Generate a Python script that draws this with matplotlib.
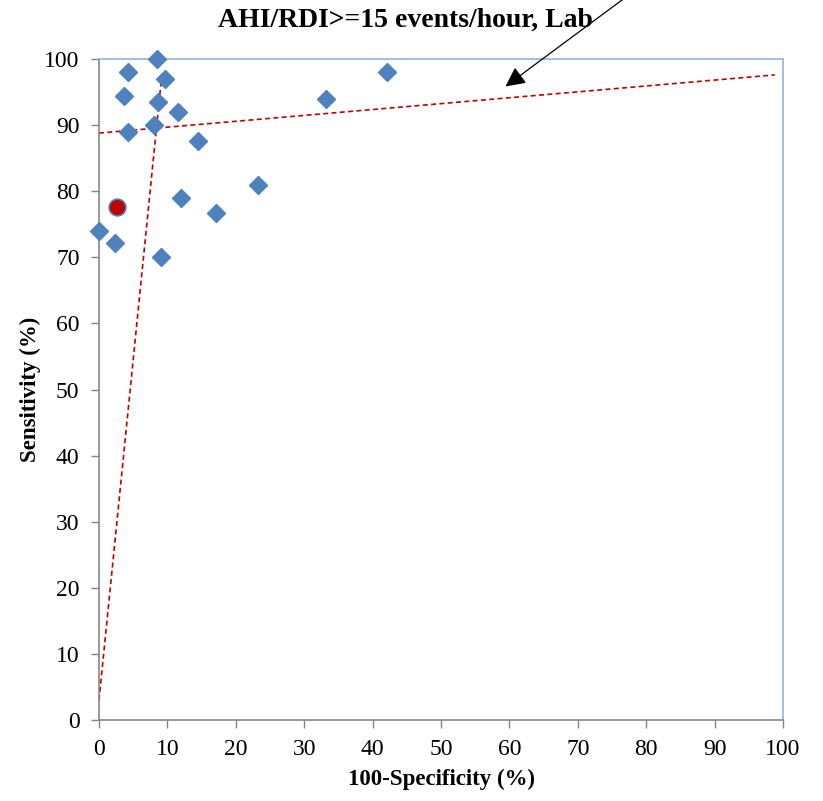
import matplotlib
matplotlib.use("Agg")
import matplotlib.pyplot as plt

# -----------------------------
# data
# -----------------------------
spec_100 = [8.5, 4.2, 9.6, 3.7, 8.6, 11.5, 8.0, 4.2, 14.5, 33.2, 42.1,
            23.2, 12.0, 17.1, 0.0, 2.3, 9.1]
sens = [100.0, 98.0, 97.0, 94.4, 93.5, 92.0, 90.0, 89.0, 87.6, 94.0, 98.0,
        80.9, 79.0, 76.7, 74.0, 72.2, 70.0]

# highlighted study
hl_x = [2.6]
hl_y = [77.6]

# dashed reference lines (end points)
flat_x = [0, 98.8]
flat_y = [88.8, 97.6]
steep_x = [0, 9.2]
steep_y = [3.0, 97.8]

ticks = list(range(0, 101, 10))

plt.rcParams["font.family"] = ["Liberation Serif", "DejaVu Serif"]

fig = plt.figure(figsize=(8.23, 8.01), dpi=100)
ax = fig.add_axes([0.1203, 0.1011, 0.8311, 0.8252])

ax.plot(flat_x, flat_y, linestyle=(0, (3, 2)), color="#C00000", lw=1.2)
ax.plot(steep_x, steep_y, linestyle=(0, (3, 2)), color="#C00000", lw=1.2)

ax.plot(spec_100, sens, linestyle="none", marker="D", ms=9.5,
        color="#4F81BD", mec="#4F81BD", clip_on=False, zorder=3)
ax.plot(hl_x, hl_y, linestyle="none", marker="o", ms=12,
        color="#C00000", mec="#4F81BD", mew=1.2, clip_on=False, zorder=4)

ax.annotate("", xy=(59.1, 95.6), xytext=(78.5, 110.5),
            arrowprops=dict(arrowstyle="-|>", color="black", lw=0.9,
                            mutation_scale=30),
            annotation_clip=False)

ax.set_xlim(0, 100)
ax.set_ylim(0, 100)
ax.set_xticks(ticks)
ax.set_yticks(ticks)
ax.tick_params(direction="out", length=6, width=1, color="#868686",
               labelsize=17, pad=8)

for side in ["left", "bottom"]:
    ax.spines[side].set_color("#868686")
    ax.spines[side].set_linewidth(1.2)
for side in ["top", "right"]:
    ax.spines[side].set_color("#95B3D7")
    ax.spines[side].set_linewidth(1.2)

ax.set_xlabel("100-Specificity (%)", fontsize=16.5, fontweight="bold", labelpad=6)
ax.set_ylabel("Sensitivity (%)", fontsize=16.5, fontweight="bold", labelpad=2.5)
fig.text(0.493, 0.975, "AHI/RDI>=15 events/hour, Lab", ha="center",
         va="center", fontsize=20, fontweight="bold")

fig.savefig("out.png", dpi=100)
